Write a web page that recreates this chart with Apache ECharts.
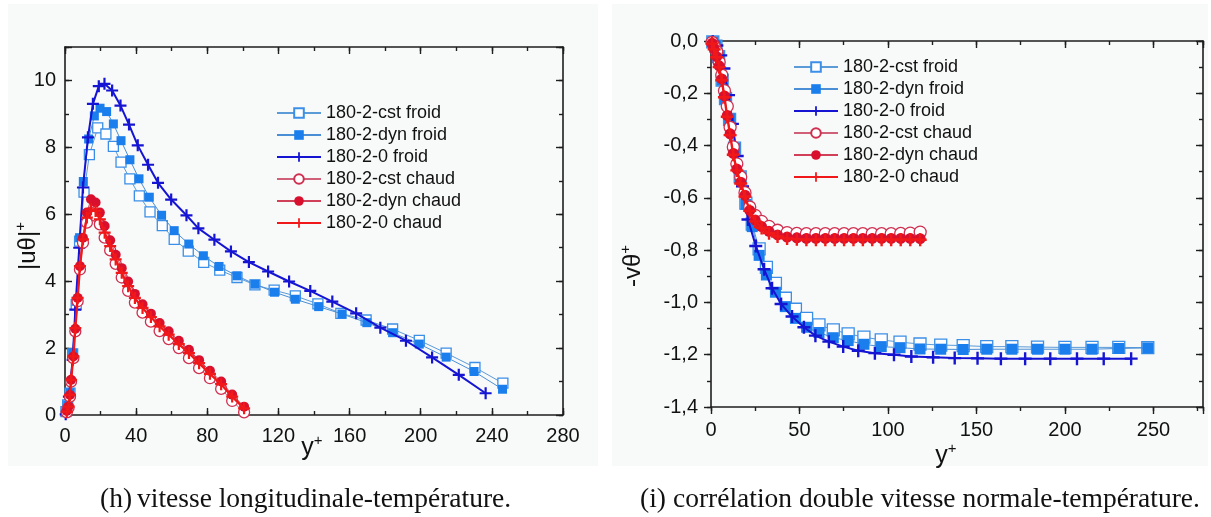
<!DOCTYPE html>
<html><head><meta charset="utf-8">
<script src="https://cdn.jsdelivr.net/npm/echarts@6/dist/echarts.min.js"></script>
<style>html,body{margin:0;padding:0;background:#fff}#c{width:1211px;height:517px}</style>
</head><body><div id="c"></div>
<script>
// ---------- Left panel (h): |u theta|+ vs y+ ----------
const L_FROID_X = [0.5, 1.5, 2.8, 4.3, 6.3, 8.2, 10.7, 13.7, 18.4, 23.0, 27.2, 31.5, 36.5, 41.8, 47.8, 54.7, 61.4, 69.3, 78.0, 87.0, 96.7, 106.8, 117.6, 129.5, 142.2, 155.1, 169.3, 184.2, 199.2, 214.3, 230.5, 246.2];
const L_CST_FROID = [0.1, 0.3, 0.65, 1.83, 3.3, 5.2, 6.66, 7.78, 8.58, 8.4, 8.03, 7.56, 7.06, 6.55, 6.07, 5.66, 5.25, 4.9, 4.56, 4.33, 4.11, 3.89, 3.73, 3.56, 3.32, 3.04, 2.84, 2.57, 2.23, 1.85, 1.42, 0.95];
const L_DYN_FROID_X = [0.5, 1.5, 2.8, 4.3, 6.3, 8.2, 10.3, 13.3, 16.5, 19.7, 23.4, 27.2, 31.5, 36.5, 41.6, 47.4, 54.3, 61.4, 69.6, 77.8, 86.6, 96.7, 106.8, 117.8, 129.5, 142.6, 155.7, 169.7, 184.2, 199.2, 214.3, 230.0, 246.0];
const L_DYN_FROID = [0.1, 0.3, 0.65, 1.85, 3.4, 5.3, 6.98, 8.25, 8.94, 9.17, 9.07, 8.7, 8.2, 7.63, 7.06, 6.51, 5.97, 5.51, 5.11, 4.76, 4.44, 4.16, 3.91, 3.67, 3.46, 3.24, 3.02, 2.76, 2.46, 2.12, 1.73, 1.3, 0.77];
const L_0_FROID_X = [0.4, 2.2, 4.3, 5.8, 8.0, 10.1, 12.9, 15.7, 19.0, 22.2, 26.5, 31.2, 36.0, 40.9, 46.7, 52.3, 59.7, 68.3, 75.0, 84.0, 93.3, 103.4, 114.2, 126.0, 137.9, 150.3, 163.7, 177.3, 191.7, 206.4, 221.4, 236.5];
const L_0_FROID = [0.02, 0.55, 1.65, 3.15, 5.0, 6.8, 8.3, 9.3, 9.83, 9.9, 9.7, 9.25, 8.68, 8.06, 7.48, 6.94, 6.44, 5.97, 5.58, 5.24, 4.89, 4.57, 4.29, 3.99, 3.71, 3.39, 3.04, 2.61, 2.22, 1.72, 1.2, 0.65];
const L_CHAUD_X = [1.0, 2.0, 2.8, 3.4, 4.7, 5.8, 7.1, 8.4, 10.1, 12.3, 14.6, 17.2, 19.6, 22.3, 25.4, 28.5, 31.9, 35.5, 39.3, 43.6, 48.3, 53.2, 58.3, 64.0, 69.7, 75.4, 81.5, 87.8, 94.0, 100.7];
const L_CST_CHAUD = [0.08, 0.22, 0.55, 1.0, 1.7, 2.5, 3.4, 4.35, 5.15, 5.75, 6.05, 5.95, 5.7, 5.3, 4.92, 4.52, 4.11, 3.71, 3.36, 3.06, 2.79, 2.51, 2.27, 2.0, 1.7, 1.4, 1.1, 0.78, 0.42, 0.08];
const L_DYN_CHAUD = [0.12, 0.25, 0.6, 1.05, 1.75, 2.58, 3.5, 4.45, 5.3, 6.05, 6.45, 6.35, 6.05, 5.65, 5.22, 4.79, 4.39, 3.99, 3.62, 3.31, 3.03, 2.75, 2.5, 2.22, 1.95, 1.64, 1.32, 1.0, 0.61, 0.25];
const L_0_CHAUD = [0.1, 0.25, 0.6, 1.05, 1.75, 2.6, 3.5, 4.45, 5.25, 5.9, 6.15, 6.1, 5.85, 5.45, 5.05, 4.65, 4.25, 3.85, 3.5, 3.2, 2.93, 2.65, 2.4, 2.12, 1.85, 1.55, 1.23, 0.92, 0.55, 0.2];

// ---------- Right panel (i): -v theta+ vs y+ ----------
const R_FROID_X = [1.0, 2.8, 4.3, 6.3, 8.2, 10.5, 13.3, 16.5, 19.7, 23.3, 27.2, 31.3, 36.4, 42.0, 47.7, 54.0, 61.0, 69.1, 77.5, 86.4, 96.2, 106.8, 118.1, 129.8, 142.5, 155.8, 170.0, 184.5, 200.0, 215.3, 230.4, 246.8];
const R_CST_FROID = [-0.003, -0.02, -0.06, -0.15, -0.22, -0.3, -0.41, -0.52, -0.62, -0.7, -0.795, -0.866, -0.927, -0.984, -1.026, -1.061, -1.086, -1.105, -1.12, -1.133, -1.143, -1.152, -1.159, -1.163, -1.165, -1.169, -1.169, -1.171, -1.172, -1.172, -1.172, -1.173];
const R_DYN_FROID = [-0.003, -0.02, -0.06, -0.15, -0.22, -0.3, -0.41, -0.52, -0.625, -0.71, -0.82, -0.895, -0.961, -1.016, -1.061, -1.095, -1.115, -1.135, -1.146, -1.16, -1.169, -1.173, -1.178, -1.179, -1.18, -1.179, -1.179, -1.179, -1.179, -1.179, -1.176, -1.174];
const R_0_FROID_X = [1.0, 3.3, 5.5, 7.3, 9.9, 12.1, 14.8, 17.8, 20.9, 25.3, 30.0, 34.5, 39.6, 45.8, 52.5, 59.0, 66.6, 74.7, 83.2, 92.6, 103.4, 113.2, 125.5, 137.7, 150.6, 163.8, 177.5, 191.7, 206.8, 221.9, 237.4];
const R_0_FROID = [-0.003, -0.017, -0.055, -0.105, -0.207, -0.317, -0.44, -0.556, -0.683, -0.784, -0.873, -0.946, -1.006, -1.054, -1.095, -1.127, -1.15, -1.169, -1.185, -1.194, -1.2, -1.207, -1.21, -1.213, -1.214, -1.215, -1.215, -1.215, -1.215, -1.215, -1.215];
const R_CHAUD_X = [0.6, 1.8, 3.2, 4.6, 6.1, 7.6, 9.2, 10.8, 12.6, 14.6, 16.8, 19.2, 21.9, 25.0, 28.6, 32.8, 37.6, 43.0, 48.5, 53.9, 59.3, 64.6, 69.9, 75.2, 80.5, 85.8, 91.1, 96.4, 101.8, 107.2, 112.6, 118.2];
const R_CST_CHAUD = [-0.005, -0.02, -0.04, -0.08, -0.13, -0.19, -0.25, -0.33, -0.405, -0.47, -0.52, -0.58, -0.635, -0.667, -0.69, -0.709, -0.724, -0.733, -0.736, -0.737, -0.737, -0.737, -0.737, -0.737, -0.737, -0.737, -0.737, -0.737, -0.737, -0.736, -0.735, -0.731];
const R_DYN_CHAUD = [-0.009, -0.03, -0.06, -0.095, -0.145, -0.21, -0.285, -0.355, -0.43, -0.49, -0.54, -0.59, -0.648, -0.685, -0.71, -0.728, -0.742, -0.75, -0.753, -0.755, -0.755, -0.755, -0.755, -0.755, -0.755, -0.755, -0.755, -0.755, -0.755, -0.755, -0.755, -0.756];
const R_0_CHAUD = [-0.01, -0.032, -0.062, -0.1, -0.15, -0.215, -0.29, -0.36, -0.435, -0.495, -0.545, -0.595, -0.65, -0.69, -0.715, -0.735, -0.748, -0.755, -0.758, -0.76, -0.76, -0.76, -0.76, -0.76, -0.76, -0.76, -0.76, -0.76, -0.76, -0.76, -0.76, -0.76];

const NAMES = ['180-2-cst froid', '180-2-dyn froid', '180-2-0 froid', '180-2-cst chaud', '180-2-dyn chaud', '180-2-0 chaud'];
const L_X_TICKS = [0, 280, 40, 20];
const L_Y_TICKS = [0, 11, 2, 1];
const R_X_TICKS = [0, 278, 50, 25];
const R_Y_TICKS = [-1.4, 0, 0.2, 0.1];
const CAPTION_H = ['(h)', 'vitesse longitudinale-température.'];
const CAPTION_I = ['(i)', 'corrélation double vitesse normale-température.'];

const zip = (xs, ys) => xs.map((x, i) => [x, ys[i]]);

const SANS = 'Liberation Sans, Arial, sans-serif';
const SERIF = 'Liberation Serif, Times New Roman, serif';
const AX = '#1e1e1e';
const PLUS = 'path://M-1.1,-6L1.1,-6L1.1,-1.1L6,-1.1L6,1.1L1.1,1.1L1.1,6L-1.1,6L-1.1,1.1L-6,1.1L-6,-1.1L-1.1,-1.1Z';

const STY = [
  {symbol: 'rect', size: [10, 12], fill: '#ffffff', stroke: '#3b8fe6', line: '#5b9bd8', lw: 1},
  {symbol: 'rect', size: [9, 11], fill: '#1a7fec', stroke: '#1a7fec', line: '#4a8fd6', lw: 1},
  {symbol: PLUS, size: [12, 13], fill: '#1414d2', stroke: '#1414d2', line: '#1414d2', lw: 2},
  {symbol: 'circle', size: [11, 12], fill: '#ffffff', stroke: '#cf3050', line: '#d06078', lw: 1},
  {symbol: 'circle', size: [10, 11], fill: '#d8102e', stroke: '#d8102e', line: '#d04058', lw: 1},
  {symbol: PLUS, size: [12, 13], fill: '#f01818', stroke: '#f01818', line: '#f01818', lw: 2.4}
];

function mkSeries(k, data, grid) {
  const s = STY[k];
  return {
    type: 'line', name: NAMES[k], data: data,
    xAxisIndex: grid * 4, yAxisIndex: grid * 4,
    symbol: s.symbol, symbolSize: s.size[grid], showAllSymbol: true,
    itemStyle: {color: s.fill, borderColor: s.stroke, borderWidth: (s.fill === '#ffffff') ? 1.3 : 0},
    lineStyle: {color: s.line, width: s.lw},
    emphasis: {disabled: true}, z: 2 + k
  };
}

function axisPair(grid, ticks, pos1, pos2, mainOut, labelFmt, labelMargin) {
  const [mn, mx, major, minor] = ticks;
  const base = (pos, interval, len, inside, showLine, label) => ({
    type: 'value', gridIndex: grid, position: pos, min: mn, max: mx, interval: interval,
    axisLine: {show: showLine, onZero: false, lineStyle: {color: AX, width: 1.6}},
    axisTick: {show: true, inside: inside, length: len, lineStyle: {color: AX, width: 1.4}},
    axisLabel: label ? {show: true, formatter: label, margin: labelMargin, fontFamily: SANS, fontSize: 20, color: '#111'} : {show: false},
    splitLine: {show: false}, minorTick: {show: false}, axisPointer: {show: false}
  });
  return [
    base(pos1, major, 7, !mainOut, true, labelFmt),
    base(pos1, minor, 4, !mainOut, false, null),
    base(pos2, major, 7, true, true, null),
    base(pos2, minor, 4, true, false, null)
  ];
}

const isMult = (v, m) => Math.abs(v / m - Math.round(v / m)) < 1e-6;

const xAxis = [
  ...axisPair(0, L_X_TICKS, 'bottom', 'top', false, v => isMult(v, 40) ? String(v) : '', 11),
  ...axisPair(1, R_X_TICKS, 'bottom', 'top', true, v => isMult(v, 50) ? String(v) : '', 13)
];
const yAxis = [
  ...axisPair(0, L_Y_TICKS, 'left', 'right', false, v => isMult(v, 2) ? String(v) : '', 9),
  ...axisPair(1, R_Y_TICKS, 'left', 'right', true, v => v.toFixed(1).replace('.', ',').replace('-0,0', '0,0'), 13)
];

const series = [
  mkSeries(0, zip(L_FROID_X, L_CST_FROID), 0),
  mkSeries(1, zip(L_DYN_FROID_X, L_DYN_FROID), 0),
  mkSeries(2, zip(L_0_FROID_X, L_0_FROID), 0),
  mkSeries(3, zip(L_CHAUD_X, L_CST_CHAUD), 0),
  mkSeries(4, zip(L_CHAUD_X, L_DYN_CHAUD), 0),
  mkSeries(5, zip(L_CHAUD_X, L_0_CHAUD), 0),
  mkSeries(0, zip(R_FROID_X, R_CST_FROID), 1),
  mkSeries(1, zip(R_FROID_X, R_DYN_FROID), 1),
  mkSeries(2, zip(R_0_FROID_X, R_0_FROID), 1),
  mkSeries(3, zip(R_CHAUD_X, R_CST_CHAUD), 1),
  mkSeries(4, zip(R_CHAUD_X, R_DYN_CHAUD), 1),
  mkSeries(5, zip(R_CHAUD_X, R_0_CHAUD), 1)
];

const legendBase = (left, top) => ({
  orient: 'vertical', left: left, top: top, itemWidth: 44, itemHeight: 12, itemGap: 4,
  selectedMode: false, data: NAMES, padding: 0,
  textStyle: {fontFamily: SANS, fontSize: 18, color: '#111', padding: [0, 0, 0, 0]}
});

const supText = (x, y, main, rot, fs) => ({
  type: 'text', x: x, y: y, rotation: rot || 0, z: 10,
  style: {text: main + '{s|+}', fontFamily: SANS, fontSize: fs, fill: '#111', align: 'center', verticalAlign: 'middle',
    rich: {s: {fontSize: 15, verticalAlign: 'top', padding: [0, 0, 15, 0], fontFamily: SANS, fill: '#111'}}}
});

const capText = (x, txt) => ({
  type: 'text', x: x, y: 500,
  style: {text: txt, fontFamily: SERIF, fontSize: 27.5, fill: '#111', verticalAlign: 'middle'}
});

const option = {
  animation: false,
  backgroundColor: '#ffffff',
  grid: [
    {left: 65, top: 47, width: 498, height: 368, outerBoundsMode: 'none'},
    {left: 711, top: 41, width: 492, height: 366, outerBoundsMode: 'none'}
  ],
  xAxis: xAxis, yAxis: yAxis, series: series,
  legend: [legendBase(276, 104), legendBase(793, 58)],
  graphic: [
    {type: 'rect', shape: {x: 8, y: 4, width: 590, height: 462}, style: {fill: '#f8f9f9'}, z: -10, silent: true},
    {type: 'rect', shape: {x: 612, y: 4, width: 596, height: 462}, style: {fill: '#f8f9f9'}, z: -10, silent: true},
    supText(28, 246, '|uθ|', Math.PI / 2, 24),
    supText(633, 266, '-vθ', Math.PI / 2, 24),
    supText(312, 448, 'y', 0, 25),
    supText(946, 456, 'y', 0, 25),
    capText(100, CAPTION_H[0]),
    capText(137, CAPTION_H[1]),
    capText(640, CAPTION_I[0]),
    capText(673, CAPTION_I[1])
  ]
};

const chart = echarts.init(document.getElementById('c'), null, {renderer: 'canvas'});
chart.setOption(option);
</script></body></html>
